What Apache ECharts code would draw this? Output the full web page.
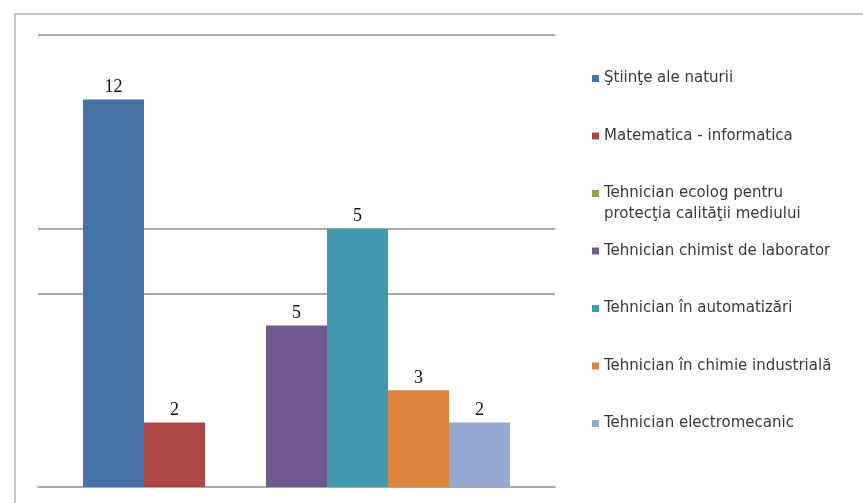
<!DOCTYPE html>
<html><head><meta charset="utf-8">
<script src="https://cdn.jsdelivr.net/npm/echarts@6/dist/echarts.min.js"></script>
<style>html,body{margin:0;padding:0;background:#fff}#c{width:863px;height:503px}</style>
</head><body><div id="c"></div>
<script>
const categories = [''];
const seriesNames = [
  'Ştiinţe ale naturii',
  'Matematica - informatica',
  'Tehnician ecolog pentru\nprotecţia calităţii mediului',
  'Tehnician chimist de laborator',
  'Tehnician în automatizări',
  'Tehnician în chimie industrială',
  'Tehnician electromecanic'
];
const seriesValues = [12, 2, 0, 5, 8, 3, 2];
const valueLabels = ['12', '2', '', '5', '5', '3', '2'];
const seriesColors = ['#4572A7', '#AA4643', '#89A54E', '#71588F', '#4198AF', '#DB843D', '#93A9CF'];
const yTicks = [0, 2, 4, 6, 8, 10, 12, 14];
const visibleGridlines = [6, 8, 14];

const chart = echarts.init(document.getElementById('c'));
const gridColors = yTicks.map(v => visibleGridlines.includes(v) ? '#8c8c8c' : 'rgba(0,0,0,0)');
const legendFont = { fontFamily: 'DejaVu Sans, sans-serif', fontSize: 15, color: '#3a3a3a', lineHeight: 21 };

// second lines of wrapped legend names (the legend shows first lines; the continuation hangs below)
const wrapped = seriesNames
  .map((n, i) => ({ i, rest: n.split('\n').slice(1).join('\n') }))
  .filter(o => o.rest);

chart.setOption({
  animation: false,
  graphic: [{
    type: 'rect', shape: { x: 15, y: 14, width: 900, height: 600 },
    style: { fill: 'none', stroke: '#c4c4c4', lineWidth: 2 }, silent: true
  }].concat(wrapped.map(o => ({
    type: 'text', left: 604, top: 66.5 + o.i * 57.5 + 21 + 4,
    style: { text: o.rest, font: '15px "DejaVu Sans", sans-serif', fill: '#3a3a3a' }, silent: true
  }))),
  legend: {
    orient: 'vertical', left: 587, top: 63, height: 430,
    itemWidth: 7, itemHeight: 7, itemGap: 36.5,
    icon: 'rect',
    formatter: name => name.split('\n')[0],
    textStyle: legendFont,
    data: seriesNames
  },
  grid: { left: 38, top: 35, width: 517, height: 452 },
  xAxis: {
    type: 'category', data: categories,
    axisLine: { lineStyle: { color: '#8c8c8c', width: 1.5 } },
    axisTick: { show: false }, axisLabel: { show: false }
  },
  yAxis: {
    type: 'value', min: 0, max: 14, interval: 2,
    axisLine: { show: false }, axisTick: { show: false }, axisLabel: { show: false },
    splitLine: { show: true, lineStyle: { color: gridColors, width: 1.5 } }
  },
  series: seriesNames.map((name, i) => ({
    name: name, type: 'bar',
    barWidth: 61, barGap: '0%',
    itemStyle: { color: seriesColors[i] },
    label: {
      show: true, position: 'top', distance: 3,
      formatter: () => valueLabels[i],
      fontFamily: 'Liberation Serif, Times New Roman, serif', fontSize: 18, color: '#111'
    },
    data: [seriesValues[i]]
  }))
});
</script></body></html>
